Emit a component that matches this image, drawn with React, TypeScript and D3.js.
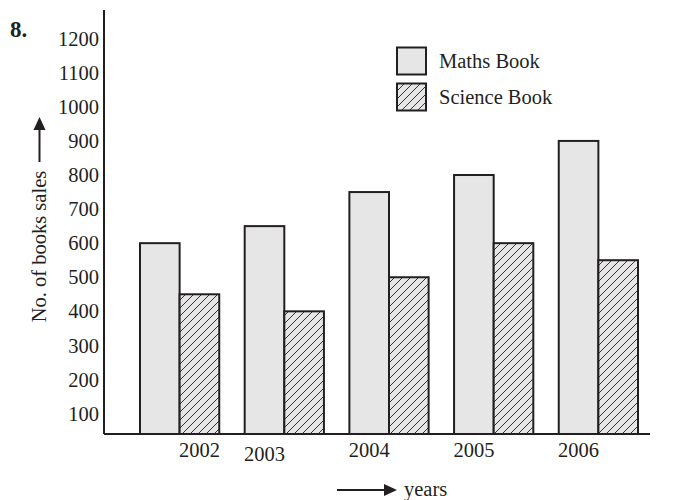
import React from 'react';
import * as d3 from 'd3';

const years = ['2002', '2003', '2004', '2005', '2006'];
const mathsBooks = [600, 650, 750, 800, 900];
const scienceBooks = [450, 400, 500, 600, 550];
const seriesNames = ['Maths Book', 'Science Book'];
const yTicks = [100, 200, 300, 400, 500, 600, 700, 800, 900, 1000, 1100, 1200];

const W = 680;
const H = 500;
const INK = '#231f20';
const FILL = '#e6e6e6';
const FONT = '"Liberation Serif", "Times New Roman", serif';
const FS = 20.5;

export default function App() {
  const baseY = 434;
  const axisX = 104;
  const x = d3.scaleBand<string>().domain(years).range([140, 638]).paddingInner(0.243).paddingOuter(0);
  const sub = d3.scaleBand<string>().domain(seriesNames).range([0, x.bandwidth()]);
  const y = d3.scaleLinear().domain([40, 1200]).range([baseY, 38.7]);
  const series = [mathsBooks, scienceBooks];

  return (
    <svg width={W} height={H} style={{ position: 'absolute', left: 0, top: 0, background: '#fff' }}>
      <defs>
        <pattern id="hatch" patternUnits="userSpaceOnUse" width={8} height={8}>
          <rect width={8} height={8} fill={FILL} />
          <path d="M0,8 L8,0 M-2,2 L2,-2 M6,10 L10,6" stroke={INK} strokeWidth={0.9} />
        </pattern>
      </defs>

      <text x={10} y={37} fontFamily={FONT} fontSize={23} fontWeight="bold" fill={INK}>8.</text>

      {/* bars */}
      {years.map((yr, i) =>
        seriesNames.map((s, si) => {
          const v = series[si][i];
          const bx = (x(yr) as number) + (sub(s) as number);
          return (
            <rect
              key={yr + s}
              x={bx}
              y={y(v)}
              width={sub.bandwidth()}
              height={baseY - y(v)}
              fill={si === 0 ? FILL : 'url(#hatch)'}
              stroke={INK}
              strokeWidth={2}
            />
          );
        })
      )}

      {/* axes */}
      <line x1={axisX} y1={10} x2={axisX} y2={baseY} stroke={INK} strokeWidth={2} />
      <line x1={axisX} y1={baseY} x2={650} y2={baseY} stroke={INK} strokeWidth={2} />

      {yTicks.map((t) => (
        <text key={t} x={99} y={y(t)} dy="0.35em" textAnchor="end" fontFamily={FONT} fontSize={FS} fill={INK}>
          {t}
        </text>
      ))}

      {years.map((yr, i) => {
        const useSci = i === 0;
        const cx = (x(yr) as number) + (sub(seriesNames[useSci ? 1 : 0]) as number) + sub.bandwidth() / 2;
        return (
          <text key={yr} x={cx} y={i === 1 ? 460.5 : 457} textAnchor="middle" fontFamily={FONT} fontSize={FS} fill={INK}>
            {yr}
          </text>
        );
      })}

      {/* y label */}
      <text
        transform={`translate(46,246.5) rotate(-90)`}
        textAnchor="middle"
        fontFamily={FONT}
        fontSize={FS}
        fill={INK}
      >
        No. of books sales
      </text>
      <line x1={39.5} y1={162} x2={39.5} y2={128} stroke={INK} strokeWidth={2} />
      <path d="M33.5,130 L39.5,117 L45.5,130 Z" fill={INK} />

      {/* x label */}
      <line x1={337} y1={490} x2={386} y2={490} stroke={INK} strokeWidth={2} />
      <path d="M384,484 L397,490 L384,496 Z" fill={INK} />
      <text x={404} y={496} fontFamily={FONT} fontSize={FS} fill={INK}>years</text>

      {/* legend */}
      {seriesNames.map((s, si) => (
        <g key={s}>
          <rect
            x={397}
            y={47.5 + si * 36}
            width={29}
            height={27}
            fill={si === 0 ? FILL : 'url(#hatch)'}
            stroke={INK}
            strokeWidth={2}
          />
          <text x={439} y={68 + si * 35.5} fontFamily={FONT} fontSize={FS} fill={INK}>
            {s}
          </text>
        </g>
      ))}
    </svg>
  );
}
